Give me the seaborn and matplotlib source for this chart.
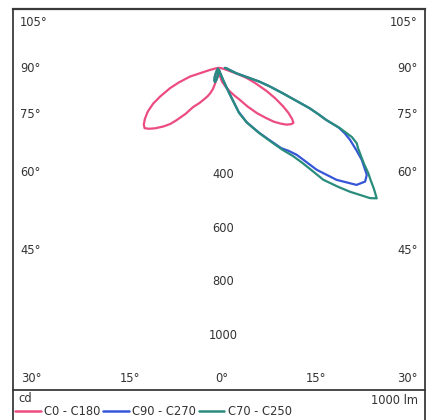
import numpy as np
import pandas as pd
import matplotlib
matplotlib.use("Agg")
import matplotlib.pyplot as plt
from matplotlib.lines import Line2D
import seaborn as sns

# Luminous intensity distribution (cd), gamma measured from nadir, negative = left half
c0_c180_gamma = [-90, -85, -80, -77, -73.3, -70, -67.5, -64, -61.5, -58.5, -55.5, -53, -51,
                 -49, -46.5, -43.5, -41, -39, -36, -33.5, -29, -25, -22, -19, -16, -14, -12,
                 -9, -5, 0, 5, 7, 10, 13, 16, 20, 25, 29, 33, 36.5, 40, 43, 45.5, 48, 50,
                 52, 53.5, 55, 57, 59, 61.5, 64, 67, 70, 72, 75, 80, 90]
c0_c180_cd = [2, 6, 15, 35, 113, 160, 198, 245, 280, 312, 336, 352, 358,
              347, 328, 302, 278, 251, 212, 176, 150, 128, 115, 100, 82, 60, 38,
              22, 12, 10, 14, 30, 42, 55, 62, 78, 98, 118, 142, 180, 221, 255, 287, 312, 330,
              342, 346, 334, 310, 280, 240, 199, 150, 110, 70, 30, 12, 2]

c90_c270_gamma = [-50, -40, -30, -25, -20, -16, -12, -8, -4, 0, 5, 10, 15, 19, 22, 24, 27,
                  31.7, 35, 37.8, 40, 41.8, 43.8, 46.4, 49.6, 52.1, 54.1, 57.2, 59, 61.2,
                  62.5, 63.5, 64.1, 65, 66, 67, 68.3, 70, 71.2, 72.7, 76, 80, 85, 90]
c90_c270_cd = [5, 12, 25, 38, 50, 55, 45, 30, 15, 8, 10, 15, 25, 50, 100, 180, 228,
               285, 330, 380, 405, 436, 528, 607, 675, 692, 682, 635, 600, 559,
               530, 500, 445, 410, 370, 310, 256, 200, 159, 67, 50, 38, 30, 22]

c70_c250_gamma = [-50, -40, -30, -25, -20, -16, -12, -8, -4, 0, 5, 10, 15, 19, 22, 24, 27,
                  31.7, 35, 37.8, 40, 41.3, 42.2, 43, 45, 46.6, 48, 49.2, 50.4, 52, 53.5,
                  54.8, 56.5, 58.8, 60, 61.3, 62.5, 63.5, 64.1, 65, 66, 67, 68.3, 70, 71.2,
                  72.7, 76, 80, 85, 90]
c70_c250_cd = [5, 12, 25, 38, 50, 55, 45, 30, 15, 8, 10, 15, 25, 50, 102, 185, 230,
               287, 335, 388, 430, 474, 520, 572, 628, 674, 710, 745, 765, 735, 705,
               683, 650, 616, 600, 587, 560, 505, 445, 410, 370, 310, 256, 200, 159,
               67, 50, 38, 30, 22]

series_labels = ["C0 - C180", "C90 - C270", "C70 - C250"]
series_colors = ["#ec4c80", "#3556d8", "#2a8c7c"]
radial_ticks = [400, 600, 800, 1000]
flux_label = "1000 lm"
unit_label = "cd"

frames = []
for label, g, v in zip(series_labels,
                       [c0_c180_gamma, c90_c270_gamma, c70_c250_gamma],
                       [c0_c180_cd, c90_c270_cd, c70_c250_cd]):
    g = np.radians(np.asarray(g, float))
    v = np.asarray(v, float)
    frames.append(pd.DataFrame({"x": v * np.sin(g), "y": -v * np.cos(g),
                                "curve": label, "order": np.arange(len(v))}))
df = pd.concat(frames, ignore_index=True)

sns.set_theme(style="white")
plt.rcParams["font.family"] = ["DejaVu Sans"]

W, H = 432, 420
fig = plt.figure(figsize=(W / 100, H / 100), dpi=100)
fig.patch.set_facecolor("white")

# plot box in pixels: x 13..425, y 9..390 (from top)
L, R, T, B = 13, 425, 9, 390
ax = fig.add_axes([L / W, 1 - B / H, (R - L) / W, (B - T) / H])
ax.set_xlim(-770, 770)
ax.set_ylim(-1204, 220)
ax.set_xticks([])
ax.set_yticks([])
for s in ax.spines.values():
    s.set_color("#3a3a3a")
    s.set_linewidth(1.3)
ax.spines["top"].set_linewidth(1.6)

sns.lineplot(data=df, x="x", y="y", hue="curve", units="curve", estimator=None,
             sort=False, palette=dict(zip(series_labels, series_colors)),
             linewidth=1.6, legend=False, ax=ax)

txt_kw = dict(fontsize=8.3, color="#333333")

# radial intensity labels along the nadir axis
for r in radial_ticks:
    ax.text(15, -r, f"{r}", ha="center", va="center", **txt_kw)

# angle labels around the frame (pixel positions)
def px_text(x, y, s, ha):
    fig.text(x / W, 1 - y / H, s, ha=ha, va="center", **txt_kw)

side_angles = ["105°", "90°", "75°", "60°", "45°"]
side_y = [22, 68, 115, 172, 250]
for s, y in zip(side_angles, side_y):
    px_text(20, y, s, "left")
    px_text(418, y, s, "right")
bottom_angles = ["30°", "15°", "0°", "15°", "30°"]
bottom_x = [21, 130, 222, 316, 418]
bottom_ha = ["left", "center", "center", "center", "right"]
for s, x, ha in zip(bottom_angles, bottom_x, bottom_ha):
    px_text(x, 378, s, ha)

# legend strip below the plot box
for x in (L, R):
    fig.add_artist(Line2D([x / W, x / W], [1 - B / H, 0], color="#3a3a3a", lw=1.3))
px_text(18, 398, unit_label, "left")
px_text(418, 400, flux_label, "right")

handles = [Line2D([], [], color=c, lw=1.8) for c in series_colors]
fig.legend(handles, series_labels, loc="lower left", bbox_to_anchor=(14 / W, 1 / H),
           ncol=3, frameon=False, fontsize=8.3, handlelength=2.2, handletextpad=0.3,
           columnspacing=0.25, borderaxespad=0, borderpad=0.1, labelcolor="#333333")

fig.savefig("out.png", dpi=100, facecolor="white")
